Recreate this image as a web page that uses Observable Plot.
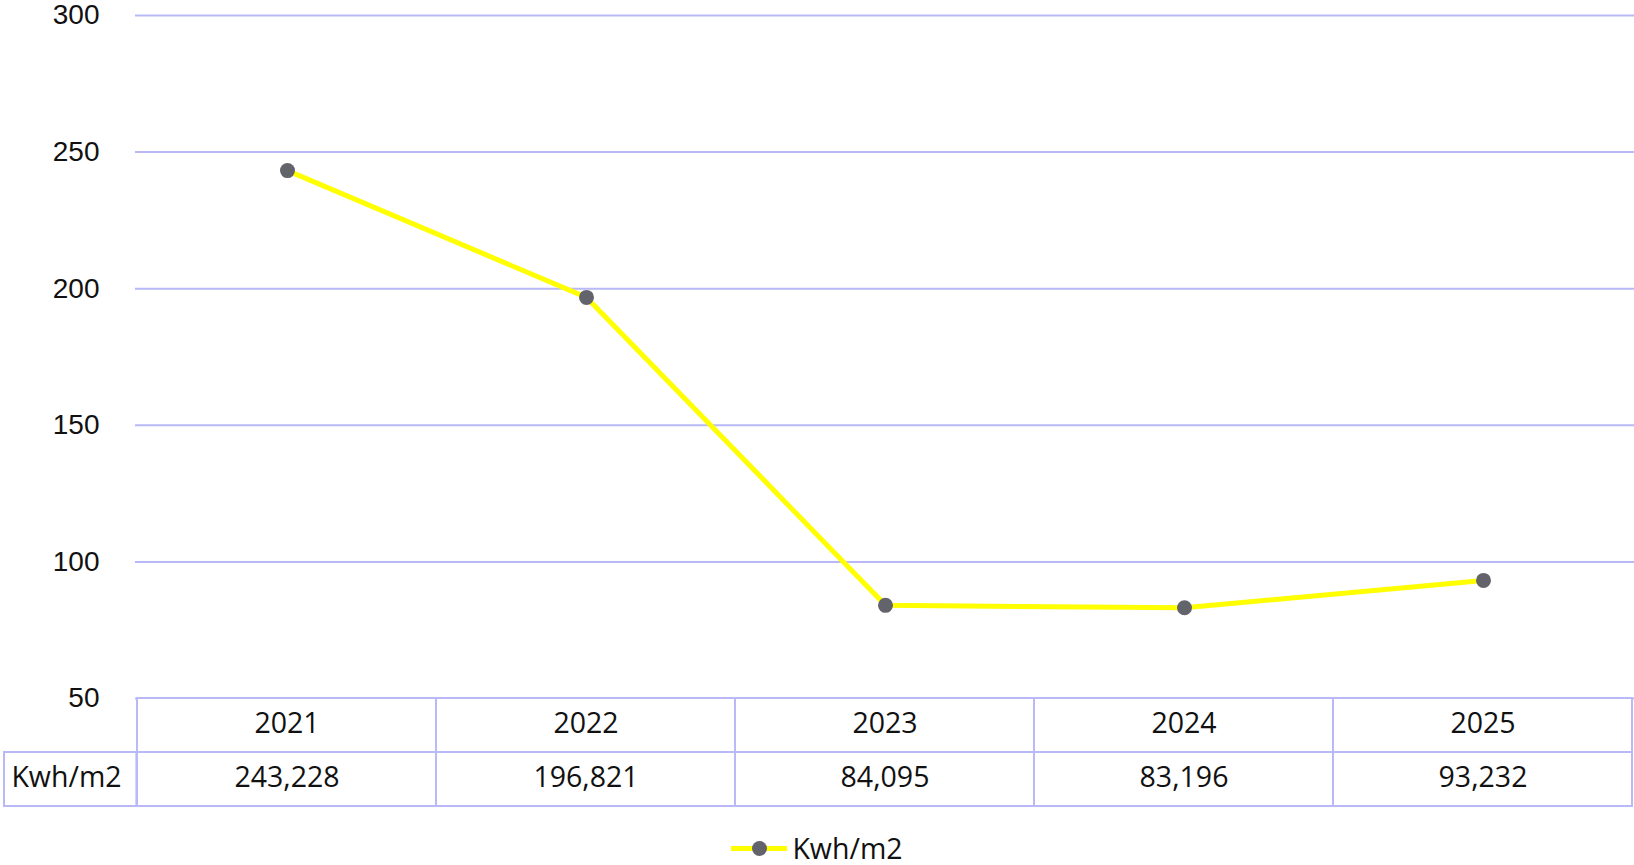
<!DOCTYPE html>
<html>
<head>
<meta charset="utf-8">
<script src="https://cdn.jsdelivr.net/npm/d3@7"></script>
<script src="https://cdn.jsdelivr.net/npm/@observablehq/plot@0.6"></script>
<style>
  html, body { margin: 0; padding: 0; background: white; }
  #chart svg { display: block; overflow: visible; }
  #legend {
    display: flex; justify-content: center; align-items: center;
    margin-top: 25px; height: 30px;
    font-family: "Open Sans", sans-serif; font-size: 28.5px; color: #111;
  }
  #legend .sw { position: relative; width: 56px; height: 5px; background: #ffff00; margin-right: 5px; }
  #legend .sw::after {
    content: ""; position: absolute; left: 20.5px; top: -5px;
    width: 15px; height: 15px; border-radius: 50%; background: #63636b;
  }
</style>
</head>
<body>
<div id="chart"></div>
<script>
const years = ["2021", "2022", "2023", "2024", "2025"];
const kwh = [243.228, 196.821, 84.095, 83.196, 93.232];
const yTicks = [50, 100, 150, 200, 250, 300];
const seriesName = "Kwh/m2";
const rows = ["year", "value"];

const gridColor = "#b9b9f7";
const tableFont = "Open Sans, sans-serif";
const tableSize = 28.5;
const fmt = d3.formatLocale({decimal: ",", thousands: ".", grouping: [3], currency: ["", ""]}).format(".3f");

const data = years.map((y, i) => ({year: y, kwh: kwh[i]}));
const tableData = [
  ...years.map(y => ({year: y, row: "year", text: y})),
  ...years.map((y, i) => ({year: y, row: "value", text: fmt(kwh[i])}))
];

const W = 1634;
const chart = Plot.plot({
  width: W, height: 698,
  marginTop: 15, marginBottom: 0, marginLeft: 135, marginRight: 0,
  style: {background: "white"},
  x: {type: "point", domain: years, padding: 0.5, axis: null},
  y: {domain: [50, 300]},
  marks: [
    Plot.gridY(yTicks, {stroke: gridColor, strokeOpacity: 1, strokeWidth: 2}),
    Plot.axisY(yTicks, {tickSize: 0, tickPadding: 36, fontSize: 28, fontFamily: "Liberation Sans, Arial, sans-serif", fill: "#111", label: null}),
    Plot.line(data, {x: "year", y: "kwh", stroke: "#ffff00", strokeWidth: 5}),
    Plot.dot(data, {x: "year", y: "kwh", r: 7.5, fill: "#63636b", stroke: "none"})
  ]
});

const bw = (W - 1 - 135) / years.length;
const table = Plot.plot({
  width: W, height: 110,
  marginTop: 0, marginBottom: 2, marginLeft: 135, marginRight: 1,
  style: {background: "transparent"},
  x: {type: "band", domain: years, padding: 0, axis: null},
  y: {type: "band", domain: rows, padding: 0, axis: null},
  marks: [
    Plot.cell(tableData, {x: "year", y: "row", fill: "white", stroke: gridColor, strokeWidth: 2}),
    Plot.cell([seriesName], {x: () => years[0], y: () => "value", fill: "white", stroke: gridColor, strokeWidth: 2, insetLeft: -133, insetRight: bw}),
    Plot.text(tableData, {x: "year", y: "row", text: "text", dy: -2, fontSize: tableSize, fontFamily: tableFont, fill: "#111"}),
    Plot.text([seriesName], {y: () => "value", text: d => d, frameAnchor: "left", dx: -69, dy: -2, textAnchor: "middle", fontSize: tableSize, fontFamily: tableFont, fill: "#111"})
  ]
});

const root = document.getElementById("chart");
root.append(chart, table);
const legend = document.createElement("div");
legend.id = "legend";
legend.innerHTML = `<span class="sw"></span><span></span>`;
legend.lastChild.textContent = seriesName;
root.append(legend);
</script>
</body>
</html>
